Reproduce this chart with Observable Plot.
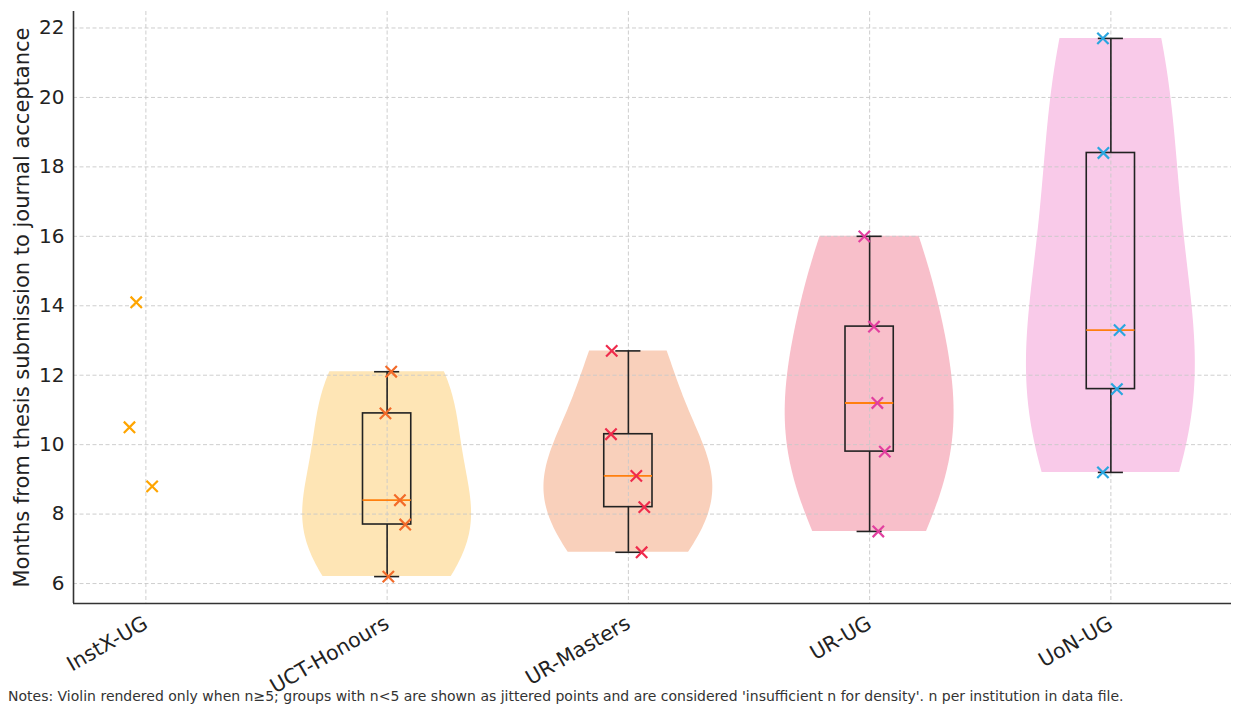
<!DOCTYPE html>
<html><head><meta charset="utf-8">
<script src="https://cdn.jsdelivr.net/npm/d3@7"></script>
<script src="https://cdn.jsdelivr.net/npm/@observablehq/plot@0.6"></script>
<style>
body{margin:0;background:#fff;font-family:"DejaVu Sans",sans-serif;}
#wrap{position:relative;width:1235px;height:706px;overflow:hidden;}
#notes{position:absolute;left:8px;top:688px;font-size:14px;color:#333;white-space:nowrap;font-family:"DejaVu Sans",sans-serif;}
</style></head><body>
<div id="wrap"><div id="chart"></div><div id="notes">Notes: Violin rendered only when n≥5; groups with n&lt;5 are shown as jittered points and are considered 'insufficient n for density'. n per institution in data file.</div></div>
<script>
// ---- data ----
const groups = ["InstX-UG", "UCT-Honours", "UR-Masters", "UR-UG", "UoN-UG"];
const instXUG   = [14.1, 10.5, 8.8];
const uctHonours = [12.1, 10.9, 8.4, 7.7, 6.2];
const urMasters  = [12.7, 10.3, 9.1, 8.2, 6.9];
const urUG       = [16.0, 13.4, 11.2, 9.8, 7.5];
const uonUG      = [21.7, 18.4, 13.3, 11.6, 9.2];
// horizontal jitter of each point (category units)
const instXJitter = [-0.04, -0.068, 0.026];
const uctJitter   = [0.017, -0.007, 0.053, 0.075, 0.005];
const urMJitter   = [-0.069, -0.072, 0.033, 0.066, 0.055];
const urUGJitter  = [-0.022, 0.018, 0.032, 0.063, 0.036];
const uonJitter   = [-0.033, -0.031, 0.036, 0.025, -0.033];
const yTicks = [6, 8, 10, 12, 14, 16, 18, 20, 22];

const values = [instXUG, uctHonours, urMasters, urUG, uonUG];
const jitters = [instXJitter, uctJitter, urMJitter, urUGJitter, uonJitter];
const violinFill = [null, "#fee5b5", "#f9d0bb", "#f8bfca", "#f9cae9"];
const pointColor = ["#ffa500", "#f26b2a", "#ef2b4c", "#e23f9f", "#2aa6df"];

// gaussian KDE (Scott's rule), scaled so the widest point has half-width 0.35
function violin(vals, idx) {
  const n = vals.length, mean = d3.mean(vals);
  const sd = Math.sqrt(d3.sum(vals, v => (v - mean) ** 2) / (n - 1));
  const bw = sd * Math.pow(n, -0.2);
  const lo = d3.min(vals), hi = d3.max(vals);
  const pts = d3.range(100).map(i => {
    const y = lo + (hi - lo) * i / 99;
    const d = d3.sum(vals, v => Math.exp(-0.5 * ((y - v) / bw) ** 2));
    return {y, d};
  });
  const m = d3.max(pts, p => p.d);
  return pts.map(p => ({y: p.y, x1: idx - 0.35 * p.d / m, x2: idx + 0.35 * p.d / m}));
}

const marks = [];
values.forEach((vals, i) => {
  if (vals.length >= 5) marks.push(Plot.areaX(violin(vals, i), {y: "y", x1: "x1", x2: "x2", fill: violinFill[i], curve: "linear"}));
});
marks.push(Plot.gridY(yTicks, {stroke: "#c8c8c8", strokeOpacity: 1, strokeWidth: 0.9, strokeDasharray: "4,2.5"}));
marks.push(Plot.gridX([0, 1, 2, 3, 4], {stroke: "#c8c8c8", strokeOpacity: 1, strokeWidth: 0.9, strokeDasharray: "4,2.5"}));
marks.push(Plot.ruleX([-0.3], {stroke: "#333", strokeWidth: 1.6}));
marks.push(Plot.ruleY([5.425], {stroke: "#333", strokeWidth: 1.6}));
marks.push(Plot.axisY(yTicks, {tickSize: 0, tickPadding: 9, label: null, fontSize: 20, fill: "#222"}));
marks.push(Plot.axisX([0, 1, 2, 3, 4], {tickSize: 0, tickPadding: 18, tickRotate: -30, tickFormat: i => groups[i], label: null, fontSize: 20.5, fill: "#222"}));
marks.push(Plot.text(["Months from thesis submission to journal acceptance"], {frameAnchor: "left", dx: -51, rotate: -90, fontSize: 21, fill: "#222", textAnchor: "middle"}));

values.forEach((vals, i) => {
  if (vals.length >= 5) {
    const s = vals.slice().sort(d3.ascending);
    const q1 = d3.quantile(s, 0.25), med = d3.quantile(s, 0.5), q3 = d3.quantile(s, 0.75);
    const lo = s[0], hi = s[s.length - 1];
    marks.push(Plot.ruleX([i], {y1: lo, y2: q1, stroke: "#222", strokeWidth: 1.6}));
    marks.push(Plot.ruleX([i], {y1: q3, y2: hi, stroke: "#222", strokeWidth: 1.6}));
    marks.push(Plot.ruleY([lo, hi], {x1: i - 0.052, x2: i + 0.052, stroke: "#222", strokeWidth: 1.6}));
    marks.push(Plot.rect([0], {x1: i - 0.1, x2: i + 0.1, y1: q1, y2: q3, fill: "none", stroke: "#222", strokeWidth: 1.6}));
    marks.push(Plot.ruleY([med], {x1: i - 0.1, x2: i + 0.1, stroke: "#ff7f0e", strokeWidth: 1.8}));
  }
});
values.forEach((vals, i) => {
  const pts = vals.map((v, k) => ({x: i + jitters[i][k], y: v}));
  marks.push(Plot.dot(pts, {x: "x", y: "y", symbol: "times", r: 5.2, stroke: pointColor[i], strokeWidth: 2.2}));
});

const chart = Plot.plot({
  width: 1235,
  height: 706,
  marginLeft: 73,
  marginRight: 4,
  marginTop: 11,
  marginBottom: 103,
  x: {domain: [-0.3, 4.5], axis: null},
  y: {domain: [5.425, 22.475], axis: null},
  style: {fontFamily: "DejaVu Sans, sans-serif", fontSize: "20px", background: "#fff", color: "#222"},
  marks
});
document.getElementById("chart").appendChild(chart);
</script>
</body></html>
